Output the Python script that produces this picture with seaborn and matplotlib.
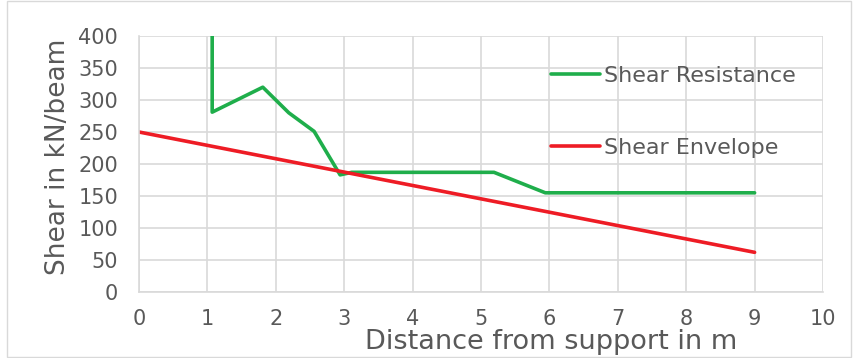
import matplotlib
matplotlib.use("Agg")
import matplotlib.pyplot as plt
import seaborn as sns
import pandas as pd

# Data
resist_x = [1.07, 1.07, 1.81, 2.19, 2.56, 2.94, 3.11, 5.19, 5.94, 9.0]
resist_y = [400, 281, 320, 280, 251, 183, 187, 187, 155, 155]
envelope_x = [0, 9.0]
envelope_y = [250, 62]

x_ticks = list(range(0, 11))
y_ticks = list(range(0, 401, 50))

sns.set_theme(style="whitegrid")
plt.rcParams['font.family'] = ['DejaVu Sans']

grey = "#595959"
grid_grey = "#d9d9d9"

resist_df = pd.DataFrame({"x": resist_x, "y": resist_y})
env_df = pd.DataFrame({"x": envelope_x, "y": envelope_y})

fig = plt.figure(figsize=(8.54, 3.58), dpi=100)
ax = fig.add_axes([139 / 854, 1 - 292 / 358, (823 - 139) / 854, (292 - 36) / 358])

sns.lineplot(data=resist_df, x="x", y="y", sort=False, estimator=None,
             color="#1fae4b", linewidth=2.6, label="Shear Resistance", ax=ax)
sns.lineplot(data=env_df, x="x", y="y", sort=False, estimator=None,
             color="#ee1c25", linewidth=2.6, label="Shear Envelope", ax=ax)

ax.set_xlim(0, 10)
ax.set_ylim(0, 400)
ax.set_xticks(x_ticks)
ax.set_yticks(y_ticks)
ax.grid(True, color=grid_grey, linewidth=1.2)
for side in ["top", "right"]:
    ax.spines[side].set_visible(False)
for side in ["left", "bottom"]:
    ax.spines[side].set_color(grid_grey)
    ax.spines[side].set_linewidth(1.2)
ax.tick_params(axis="x", which="major", direction="out", length=4,
               color=grid_grey, width=1.2, labelsize=15, labelcolor=grey, pad=8)
ax.tick_params(axis="y", which="major", length=0, labelsize=15,
               labelcolor=grey, pad=15)

ax.set_xlabel("Distance from support in m", fontsize=19.5, color=grey)
ax.set_ylabel("Shear in kN/beam", fontsize=19, color=grey)
# Excel puts the axis titles a bit off-centre
ax.xaxis.set_label_coords(0.602, -0.146)
ax.yaxis.set_label_coords(-0.1, 0.527)

leg = ax.legend(loc="upper left", bbox_to_anchor=(0.602, 0.884), frameon=False,
                fontsize=16, labelspacing=2.35, handlelength=2.2, handletextpad=0.2,
                borderaxespad=0, borderpad=0)
for t in leg.get_texts():
    t.set_color(grey)

# thin frame around the image
fig.patches.append(plt.Rectangle((0.008, 0.003), 0.988, 0.994, transform=fig.transFigure,
                                 fill=False, edgecolor=grid_grey, linewidth=1))

fig.savefig("out.png", dpi=100)
